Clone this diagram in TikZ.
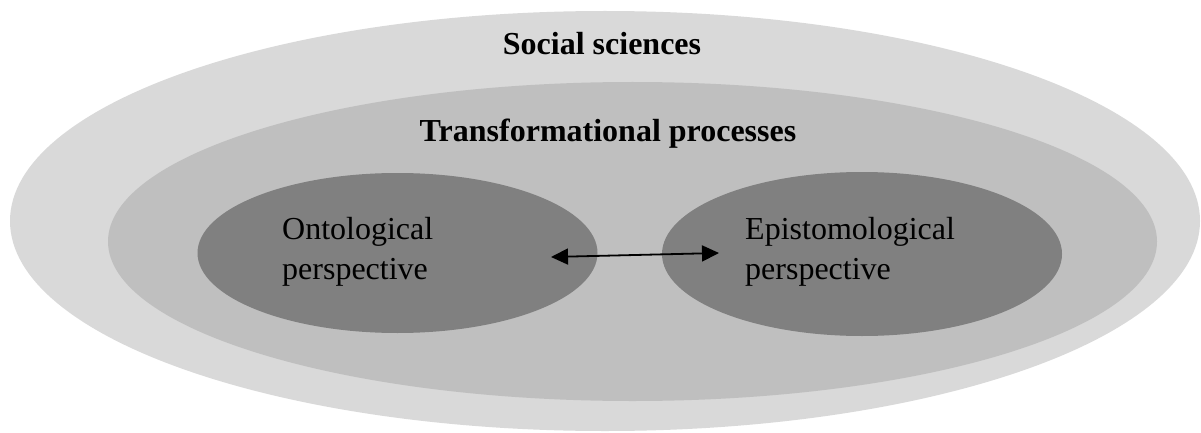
\documentclass[tikz,border=0pt]{standalone}
\usepackage{fontspec}
\setmainfont{Liberation Serif}
\usetikzlibrary{shapes.geometric,arrows.meta}

\definecolor{outergray}{HTML}{D9D9D9}
\definecolor{midgray}{HTML}{BFBFBF}
\definecolor{innergray}{HTML}{808080}

\tikzset{
  blob/.style={ellipse, inner sep=0pt, draw=none},
  label/.style={font=\fontsize{32}{40}\selectfont, inner sep=0pt, align=left},
}

\begin{document}
\begin{tikzpicture}[x=1pt, y=-1pt]
  \useasboundingbox (0,0) rectangle (1201,433);

  \node[blob, fill=outergray, minimum width=1190pt, minimum height=420pt] (social) at (605,221) {};
  \node[blob, fill=midgray, minimum width=1049pt, minimum height=319pt] (transform) at (632.5,241.5) {};
  \node[blob, fill=innergray, minimum width=400pt, minimum height=160pt] (onto) at (397.5,253) {};
  \node[blob, fill=innergray, minimum width=400pt, minimum height=164pt] (episto) at (862,254) {};

  \node[label, font=\fontsize{32}{40}\selectfont\bfseries, anchor=base] (socialtxt) at (602,55) {Social sciences};
  \node[label, font=\fontsize{32}{40}\selectfont\bfseries, anchor=base] (transformtxt) at (608,142) {Transformational processes};
  \node[label, anchor=base west] (ontotxt) at (282,279) {Ontological\\perspective};
  \node[label, anchor=base west] (epistotxt) at (745,279) {Epistomological\\perspective};

  \coordinate (ontoend) at (551,257);
  \coordinate (epistoend) at (719,253);
  \draw[line width=1.8pt, {Triangle[length=17pt,width=16pt]}-{Triangle[length=17pt,width=16pt]}] (ontoend) -- (epistoend);
\end{tikzpicture}
\end{document}
